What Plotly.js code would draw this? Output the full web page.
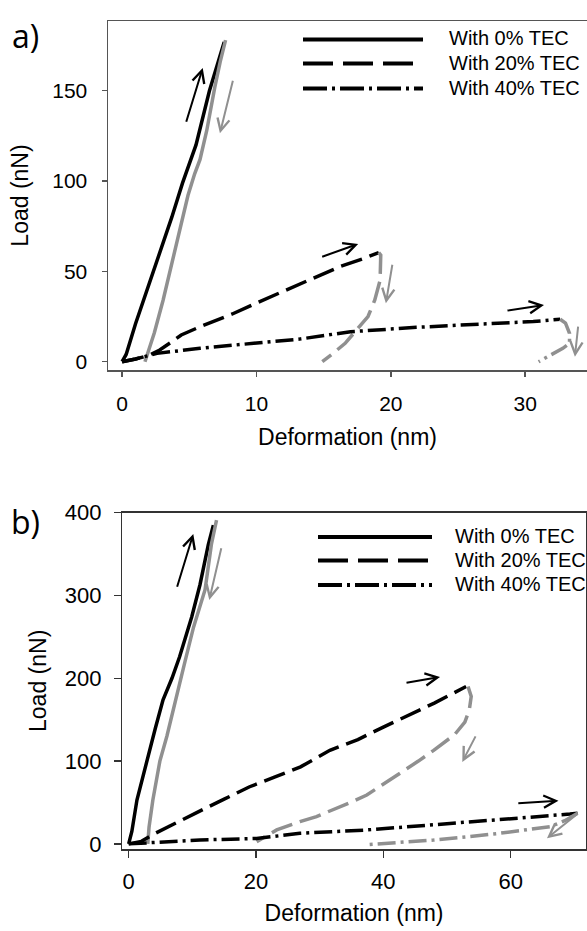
<!DOCTYPE html>
<html>
<head>
<meta charset="utf-8">
<script src="https://cdn.plot.ly/plotly-3.0.1.min.js"></script>
<style>html,body{margin:0;padding:0;background:#fff;}#chart{width:587px;height:931px;}</style>
</head>
<body>
<div id="chart"></div>
<script>
// ---------- Panel a) data (Deformation nm, Load nN) ----------
const aLoad0X   = [0, 0.3, 1.0, 1.6, 2.5, 3.7, 4.5, 5.5, 6.5, 7.2, 7.6];
const aLoad0Y   = [0, 4, 21, 34, 54, 80, 99, 120, 150, 167, 177];
const aUnload0X = [7.7, 7.3, 6.9, 6.3, 5.8, 5.4, 4.9, 4.5, 3.8, 3.05, 2.4, 2.0, 1.7];
const aUnload0Y = [178, 166, 152, 128, 112, 104, 92, 79, 58, 34, 16, 6, 0];
const aLoad20X   = [0, 1, 2, 2.8, 3.6, 4.4, 6, 8.2, 10, 12, 13.5, 15, 16.2, 18, 19.1];
const aLoad20Y   = [0, 1.5, 3.5, 6.5, 10.5, 14.8, 20, 26.4, 32.5, 39, 44.3, 49, 52.6, 57.2, 60.4];
const aUnload20X = [19.1, 19.25, 19.2, 18.8, 18.3, 17.45, 16.6, 15.7, 14.9];
const aUnload20Y = [60.4, 59, 45, 34, 25, 17.5, 10.2, 4.6, 0];
const aLoad40X   = [0, 1, 2.6, 5.8, 9.8, 13.2, 17, 21.9, 26.9, 30.6, 32.6];
const aLoad40Y   = [0, 1.5, 4.6, 7.4, 10.2, 12.5, 16.6, 19, 20.9, 22.2, 23.5];
const aUnload40X = [32.6, 33.0, 33.3, 33.3, 32.8, 31.85, 31.0];
const aUnload40Y = [23.5, 21.3, 15.7, 10.2, 7.4, 3.7, 0];

// ---------- Panel b) data ----------
const bLoad0X   = [0, 0.5, 1.3, 2.1, 2.9, 4.2, 5.4, 6.8, 8.0, 9.9, 11.2, 12.5, 13.3];
const bLoad0Y   = [0, 15, 53, 78, 100, 140, 174, 200, 226, 274, 313, 361, 385];
const bUnload0X = [13.8, 13.4, 13, 12, 10.2, 8.9, 7.3, 6.0, 4.9, 3.8, 3.2, 3.0];
const bUnload0Y = [391, 378, 362, 307, 262, 222, 170, 130, 100, 53, 20, 0];
const bLoad20X   = [0, 2, 4, 7, 11, 15, 19, 23, 27, 31.6, 36, 40, 44, 48, 51, 53];
const bLoad20Y   = [0, 3, 12, 24, 39, 54, 69, 81, 93, 113, 126, 141, 155, 170, 182, 190];
const bUnload20X = [53.3, 53.8, 53.5, 52.8, 51.2, 49.5, 47.9, 45.5, 42.6, 40, 37.4, 34.8, 32.1, 29.5, 26.9, 23.25, 20.1];
const bUnload20Y = [190, 178, 162, 147, 132, 122, 113, 100, 85, 72, 59, 50, 41, 33, 26.8, 16.8, 2.7];
const bLoad40X   = [0, 5, 11.2, 20.1, 26.9, 37.4, 47.9, 58.3, 65, 69.3, 70.5];
const bLoad40Y   = [0, 2.5, 4.7, 6.5, 12.8, 16.8, 22.8, 28.9, 33, 36, 37];
const bUnload40X = [70.5, 68.5, 66.2, 62, 58.3, 53, 47.9, 42, 37.4];
const bUnload40Y = [37, 28, 20.8, 16, 12.8, 8.5, 4.7, 1.5, -1];

// ---------- Tick labels / texts ----------
const aXTicks = [0, 10, 20, 30];
const aYTicks = [0, 50, 100, 150];
const bXTicks = [0, 20, 40, 60];
const bYTicks = [0, 100, 200, 300, 400];
const legendLabels = ["With 0% TEC", "With 20% TEC", "With 40% TEC"];
const xTitle = "Deformation (nm)";
const yTitle = "Load (nN)";

// Arrow annotations: [tailX, tailY, headX, headY, color]
const aArrows = [
  [4.74, 132, 6.0, 162.6, 'black'],
  [8.27, 156.4, 7.28, 126.4, 'gray'],
  [14.78, 57.8, 17.57, 65.2, 'black'],
  [20.13, 54.5, 19.63, 32.3, 'gray'],
  [28.57, 28.2, 31.4, 31.4, 'black'],
  [33.95, 20.3, 33.7, 2.8, 'gray']
];
const bArrows = [
  [7.54, 308.7, 10.15, 374.3, 'black'],
  [14.6, 358.9, 12.66, 294.6, 'gray'],
  [43.4, 194.3, 48.9, 201.6, 'black'],
  [54.6, 131.6, 52.4, 99, 'gray'],
  [60.96, 49, 67.5, 52.2, 'black'],
  [70.6, 37, 65.7, 6.8, 'gray']
];

const BLACK = '#000000';
const GRAY = '#909090';
const DASH = '22px,8px';
const DASHDOT = '18px,5px,3px,5px';
const LW = 3.5;

function tr(x, y, color, dash, xa, ya) {
  return {x: x, y: y, type: 'scatter', mode: 'lines', xaxis: xa, yaxis: ya,
          line: {color: color, width: LW, dash: dash}, hoverinfo: 'skip', showlegend: false};
}

const data = [
  tr(aLoad0X, aLoad0Y, BLACK, 'solid', 'x', 'y'),
  tr(aUnload0X, aUnload0Y, GRAY, 'solid', 'x', 'y'),
  tr(aLoad20X, aLoad20Y, BLACK, DASH, 'x', 'y'),
  tr(aUnload20X, aUnload20Y, GRAY, DASH, 'x', 'y'),
  tr(aLoad40X, aLoad40Y, BLACK, DASHDOT, 'x', 'y'),
  tr(aUnload40X, aUnload40Y, GRAY, DASHDOT, 'x', 'y'),
  tr(bLoad0X, bLoad0Y, BLACK, 'solid', 'x2', 'y2'),
  tr(bUnload0X, bUnload0Y, GRAY, 'solid', 'x2', 'y2'),
  tr(bLoad20X, bLoad20Y, BLACK, DASH, 'x2', 'y2'),
  tr(bUnload20X, bUnload20Y, GRAY, DASH, 'x2', 'y2'),
  tr(bLoad40X, bLoad40Y, BLACK, DASHDOT, 'x2', 'y2'),
  tr(bUnload40X, bUnload40Y, GRAY, DASHDOT, 'x2', 'y2')
];

const W = 587, H = 931;
const px = v => v / W;
const py = v => 1 - v / H;

const FONT = '"Liberation Sans", Arial, sans-serif';

function axis(extra) {
  return Object.assign({
    showgrid: false, zeroline: false, showline: true,
    linecolor: '#555', linewidth: 1.5, ticks: 'outside', tickcolor: '#555', tickwidth: 1.5,
    tickfont: {family: FONT, size: 21, color: '#000'}, fixedrange: true
  }, extra);
}

const annotations = [];
function addArrows(list, xr, yr) {
  list.forEach(a => {
    annotations.push({
      x: a[2], y: a[3], ax: a[0], ay: a[1], xref: xr, yref: yr, axref: xr, ayref: yr,
      text: '', showarrow: true, arrowhead: 5, arrowsize: 1.2, arrowwidth: 2,
      arrowcolor: a[4] === 'black' ? BLACK : GRAY
    });
  });
}
addArrows(aArrows, 'x', 'y');
addArrows(bArrows, 'x2', 'y2');

// Panel labels
annotations.push({text: 'a)', x: px(10), y: py(35), xref: 'paper', yref: 'paper', xanchor: 'left', yanchor: 'middle',
  showarrow: false, font: {family: 'Open Sans', size: 32, color: '#000'}});
annotations.push({text: 'b)', x: px(9), y: py(521), xref: 'paper', yref: 'paper', xanchor: 'left', yanchor: 'middle',
  showarrow: false, font: {family: 'Open Sans', size: 32, color: '#000'}});

// Legends (drawn as shapes + text)
const shapes = [];
const legendDash = ['solid', '30px,10px', '24px,5px,3px,5px'];
function addLegend(x0, x1, tx, rows) {
  rows.forEach((ry, i) => {
    shapes.push({type: 'line', xref: 'paper', yref: 'paper', x0: px(x0), x1: px(x1), y0: py(ry), y1: py(ry),
      line: {color: BLACK, width: 4, dash: legendDash[i]}});
    annotations.push({text: legendLabels[i], x: px(tx), y: py(ry - 1), xref: 'paper', yref: 'paper',
      xanchor: 'left', yanchor: 'middle', showarrow: false, font: {family: FONT, size: 20, color: '#000'}});
  });
}
addLegend(303, 423, 447, [39.5, 63.5, 88.5]);
addLegend(318, 432, 453, [537, 560.5, 585]);

const layout = {
  width: W, height: H, margin: {l: 0, r: 0, t: 0, b: 0},
  paper_bgcolor: '#fff', plot_bgcolor: '#fff', showlegend: false,
  font: {family: FONT, color: '#000'},
  xaxis: axis({domain: [108 / W, 1], range: [-1.05, 34.6], anchor: 'y', tickvals: aXTicks, ticklen: 5, mirror: true,
    ticklabelstandoff: 9,
    title: {text: xTitle, font: {family: FONT, size: 23, color: '#000'}, standoff: 15}}),
  yaxis: axis({domain: [py(370), py(21)], range: [-4.6, 188.6], anchor: 'x', tickvals: aYTicks, ticklen: 5,
    ticklabelstandoff: 10,
    title: {text: yTitle, font: {family: FONT, size: 23, color: '#000'}, standoff: 17}}),
  xaxis2: axis({domain: [122.3 / W, 0.998], range: [-1.0, 71.8], anchor: 'y2', tickvals: bXTicks, ticklen: 7, mirror: true,
    ticklabelstandoff: 5,
    tickfont: {family: FONT, size: 22, color: '#000'}, linecolor: '#333', tickcolor: '#333',
    title: {text: xTitle, font: {family: FONT, size: 23, color: '#000'}, standoff: 12}}),
  yaxis2: axis({domain: [py(849), py(512.7)], range: [-6.2, 400], anchor: 'x2', tickvals: bYTicks, ticklen: 7, mirror: true,
    ticklabelstandoff: 8,
    tickfont: {family: FONT, size: 22, color: '#000'}, linecolor: '#333', tickcolor: '#333',
    title: {text: yTitle, font: {family: FONT, size: 23, color: '#000'}, standoff: 11}}),
  annotations: annotations,
  shapes: shapes
};

Plotly.newPlot('chart', data, layout, {staticPlot: true, displayModeBar: false});
</script>
</body>
</html>
